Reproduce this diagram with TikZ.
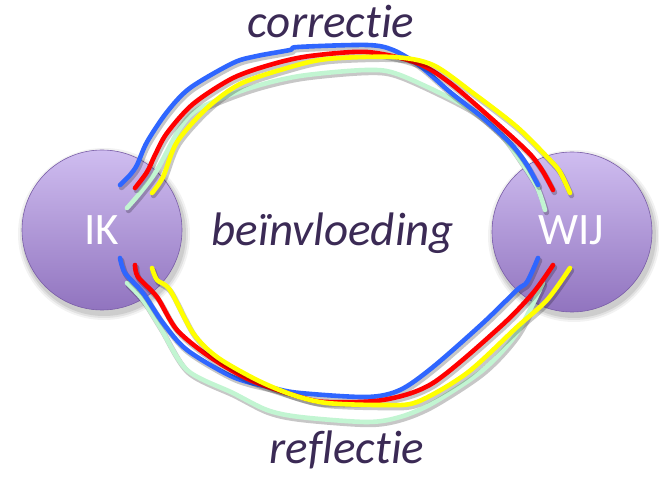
\documentclass[tikz,border=0pt]{standalone}
\usepackage{fontspec}
\setmainfont{Carlito}[Ligatures=NoCommon]
\definecolor{sphereTop}{HTML}{CFBDF0}
\definecolor{sphereBot}{HTML}{9174BF}
\definecolor{sphereRim}{HTML}{7A5EA8}
\definecolor{labelInk}{HTML}{3B2A55}
\definecolor{lineBlue}{HTML}{2F66FF}
\definecolor{lineRed}{HTML}{FF0000}
\definecolor{lineYellow}{HTML}{FFFF00}
\definecolor{lineGreen}{HTML}{C2F5D2}
\tikzset{
  sphere/.style={circle, minimum size=160pt, inner sep=0pt, outer sep=0pt,
    top color=sphereTop, bottom color=sphereBot, draw=sphereRim, line width=0.6pt},
  spherelabel/.style={anchor=base, text=white, font=\fontsize{45}{50}\selectfont},
  wordlabel/.style={anchor=base, text=labelInk, font=\fontsize{47}{50}\selectfont\itshape},
  handstroke/.style={line width=4.6pt, line join=round, line cap=round},
  lineshadow/.style={handstroke, draw=black, opacity=0.22, line width=5.5pt,
    shift={(1.5pt,-2.5pt)}},
}
% one hand-drawn stroke with its soft shadow: colour, points
\newcommand\handline[2]{%
  \draw[lineshadow] plot[smooth, tension=0.5] coordinates {#2};
  \draw[handstroke, draw=#1] plot[smooth, tension=0.5] coordinates {#2};
}
\begin{document}
\begin{tikzpicture}[x=1pt, y=-1pt]
\useasboundingbox (0,0) rectangle (659,478);

% soft shadows under the two spheres
\foreach \c in {(104,234), (574,236)} {
  \foreach \r/\o in {86/0.05, 84/0.07, 82/0.09} {
    \fill[black, opacity=\o] \c circle (\r);
  }
}

\node[sphere] (ik) at (102,230) {};
\node[sphere] (wij) at (572,232) {};
\node[spherelabel] (iklabel) at (102,245) {IK};
\node[spherelabel] (wijlabel) at (571,245) {WIJ};

% upper arcs: correctie
\handline{lineGreen}{(127,208) (140,193) (157,170) (180,128) (200,108) (250,88) (300,76) (367,70) (400,75) (467,107) (500,133) (520,160) (537,187) (545,210)}
\handline{lineBlue}{(120,185) (130,175) (137,165) (147,142) (167,112) (190,88) (233,63) (257,56) (290,50) (298,47) (367,45) (393,50) (420,66) (450,92) (483,118) (512,145) (527,165) (538,185)}
\handline{lineRed}{(135,188) (147,172) (155,155) (167,133) (193,104) (233,78) (273,64) (310,56) (367,52) (417,63) (450,83) (493,120) (528,152) (542,170) (553,190)}
\handline{lineYellow}{(152,193) (163,177) (177,142) (207,108) (240,84) (287,68) (327,59) (393,57) (433,65) (473,93) (517,127) (550,160) (560,172) (570,193)}

% lower arcs: reflectie
\handline{lineGreen}{(127,283) (143,300) (160,327) (187,370) (233,393) (267,410) (300,417) (367,422) (400,417) (433,403) (483,370) (517,333) (543,283)}
\handline{lineBlue}{(120,258) (125,273) (143,293) (163,323) (187,350) (233,377) (273,388) (300,393) (367,397) (400,390) (433,367) (483,323) (517,290) (527,282) (538,258)}
\handline{lineRed}{(135,265) (138,277) (157,297) (177,330) (210,357) (250,380) (300,397) (327,402) (383,400) (433,383) (500,327) (533,293) (553,265)}
\handline{lineYellow}{(152,268) (157,280) (170,290) (193,333) (217,357) (257,380) (293,395) (327,403) (383,405) (417,402) (467,373) (517,327) (547,300) (570,268)}

\node[wordlabel] (correctie) at (331,38) {correctie};
\node[wordlabel] (beinvloeding) at (333,246) {beïnvloeding};
\node[wordlabel] (reflectie) at (347,463) {reflectie};
\end{tikzpicture}
\end{document}
